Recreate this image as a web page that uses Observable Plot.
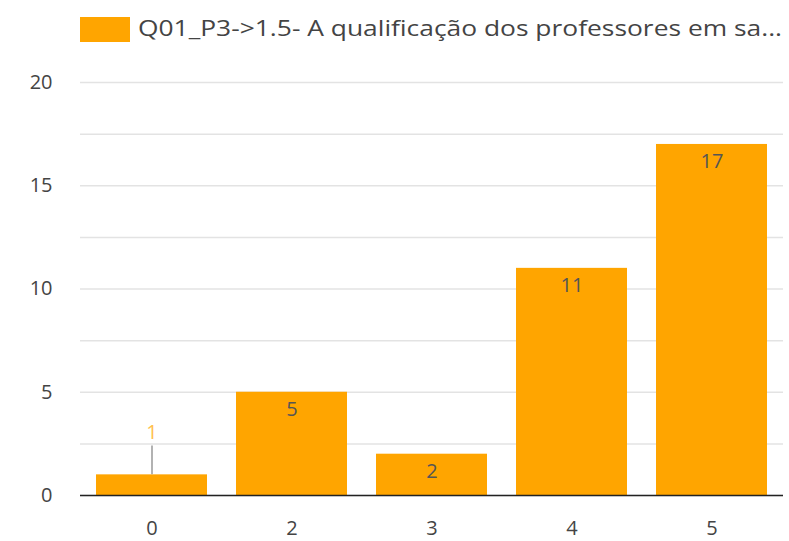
<!DOCTYPE html>
<html>
<head>
<meta charset="utf-8">
<script src="https://cdn.jsdelivr.net/npm/d3@7"></script>
<script src="https://cdn.jsdelivr.net/npm/@observablehq/plot@0.6"></script>
<style>
  body { margin: 0; background: #fff; font-family: "Open Sans", sans-serif; }
  #legend { height: 60px; position: relative; }
  #legend .sw { position: absolute; left: 80px; top: 17px; width: 50px; height: 25px; background: #FFA500; }
  #legend .lb { position: absolute; left: 138px; top: 14px; font-family: "Open Sans", sans-serif; font-size: 21px; line-height: 28px; color: #444; white-space: nowrap; transform-origin: 0 50%; }
</style>
</head>
<body>
<div id="legend"><div class="sw"></div><div class="lb"></div></div>
<div id="chart"></div>
<script>
const seriesName = "Q01_P3->1.5- A qualificação dos professores em sa...";
const categories = ["0", "2", "3", "4", "5"];
const values = [1, 5, 2, 11, 17];
const yTicks = [0, 5, 10, 15, 20];
const gridLines = [0, 2.5, 5, 7.5, 10, 12.5, 15, 17.5, 20];

const lb = document.querySelector("#legend .lb");
lb.textContent = seriesName;
const w = lb.getBoundingClientRect().width;
const target = 644;
lb.style.transform = "scaleX(" + (target / w) + ")";

const data = categories.map((c, i) => ({cat: c, value: values[i]}));
const inside = data.filter(d => d.value >= 2);
const outside = data.filter(d => d.value < 2);

const chart = Plot.plot({
  width: 789,
  height: 481,
  marginLeft: 80,
  marginRight: 6,
  marginTop: 22,
  marginBottom: 46,
  style: {fontFamily: "Open Sans, sans-serif", fontSize: "20px", color: "#444"},
  x: {domain: categories, paddingInner: 0.21, paddingOuter: 0.11, label: null},
  y: {domain: [0, 20], label: null},
  marks: [
    Plot.ruleY(gridLines, {stroke: "#e3e3e3", strokeWidth: 1.5}),
    Plot.barY(data, {x: "cat", y: "value", fill: "#FFA500"}),
    Plot.ruleY([0], {stroke: "#222", strokeWidth: 1.5}),
    Plot.text(inside, {x: "cat", y: "value", text: d => String(d.value), dy: 17, lineAnchor: "middle", fill: "#555", fontSize: 20}),
    Plot.ruleX(outside, {x: "cat", y1: "value", y2: d => d.value + 1.4, stroke: "#999", strokeWidth: 1.5}),
    Plot.text(outside, {x: "cat", y: "value", text: d => String(d.value), dy: -42, lineAnchor: "middle", fill: "#FFC04D", fontSize: 20}),
    Plot.axisY({ticks: yTicks, tickSize: 0, tickPadding: 28, fontSize: 20, label: null}),
    Plot.axisX({tickSize: 0, tickPadding: 25, fontSize: 20, label: null})
  ]
});
document.getElementById("chart").appendChild(chart);
</script>
</body>
</html>
